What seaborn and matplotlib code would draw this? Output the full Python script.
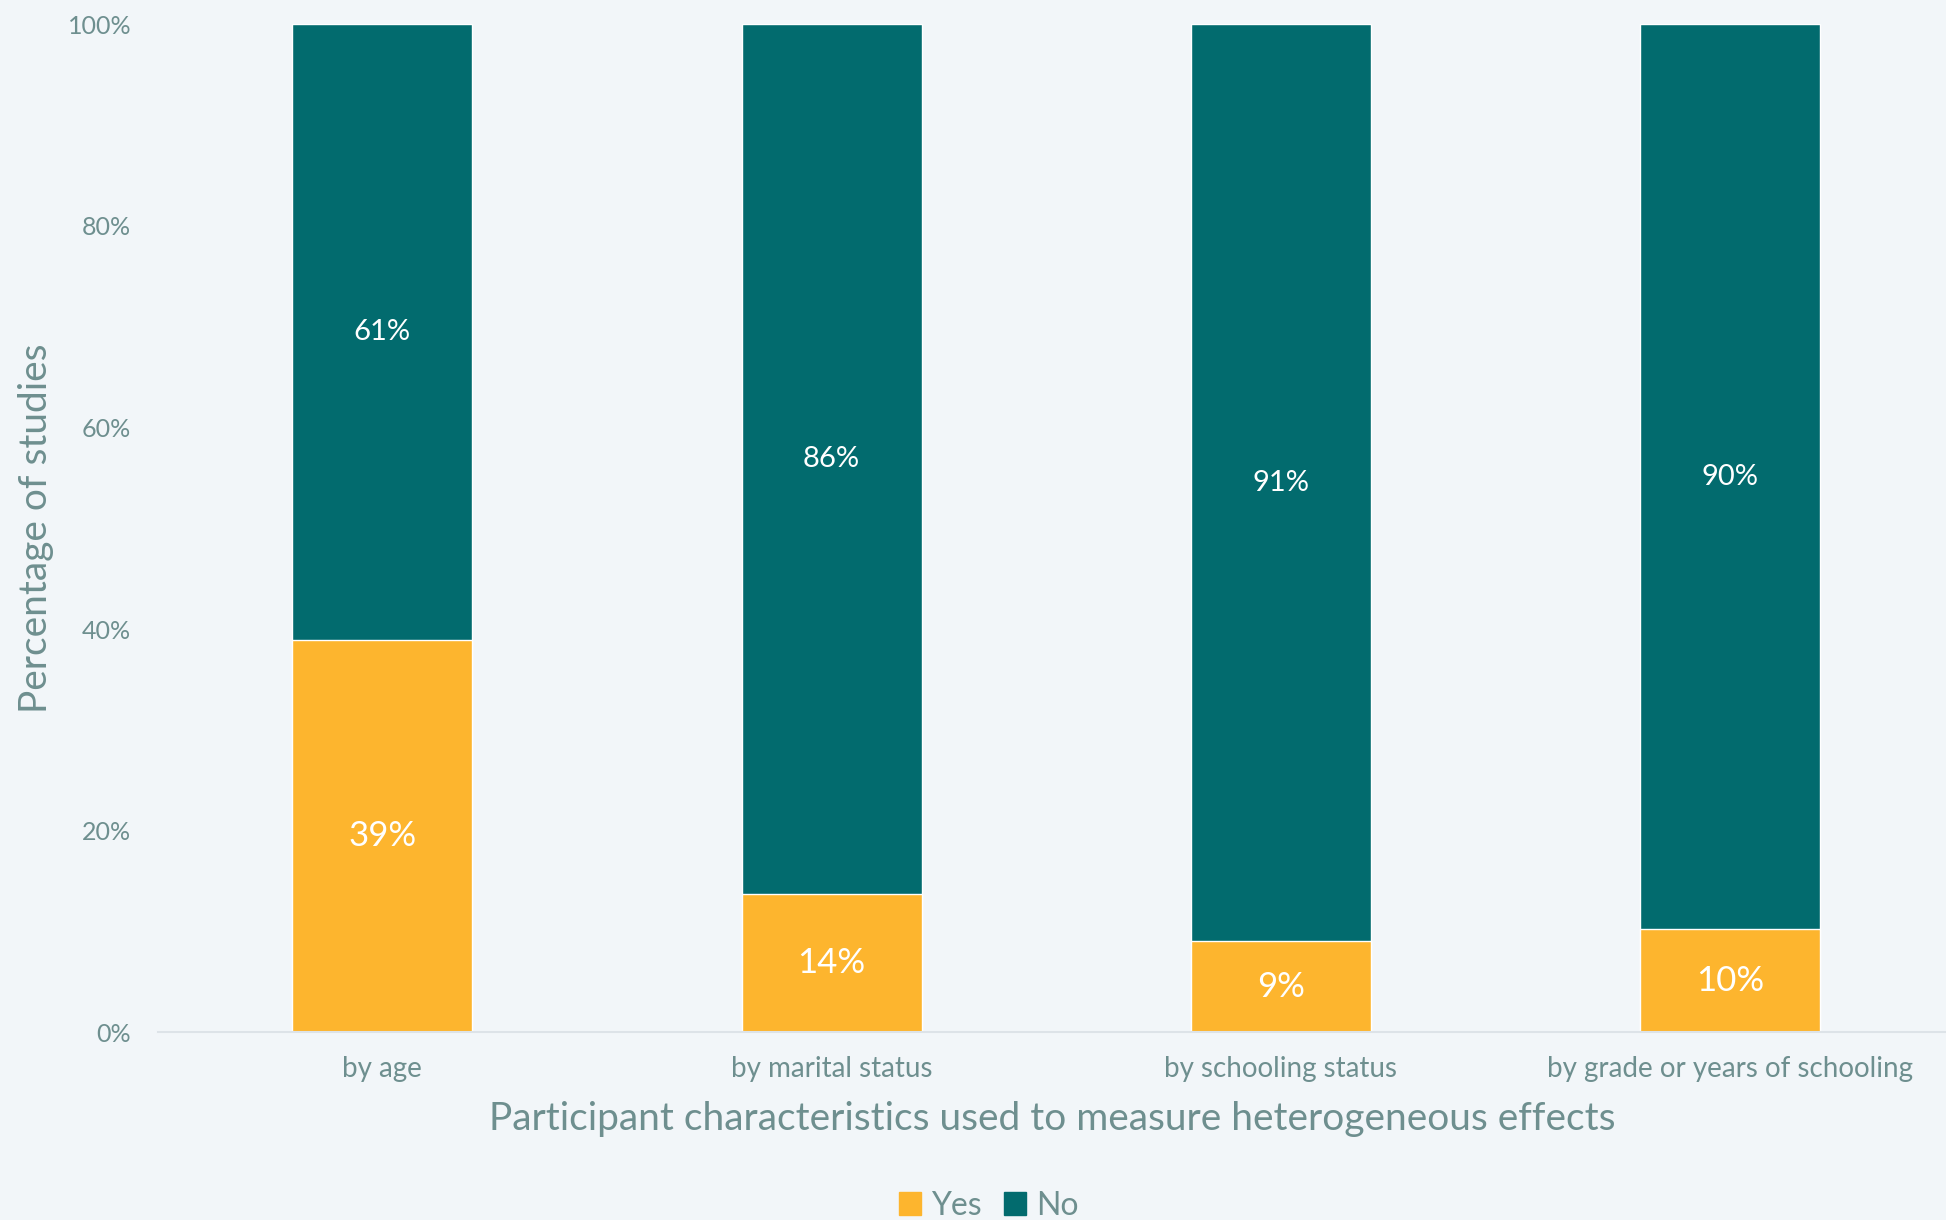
"""Stacked 100% bar chart: heterogeneous effects by participant characteristic."""

import matplotlib.pyplot as plt
import pandas as pd
import seaborn as sns
from matplotlib.patches import Patch

CATEGORIES = [
    "by age",
    "by marital status",
    "by schooling status",
    "by grade or years of schooling",
]
YES_PCT = [38.9, 13.7, 9.0, 10.2]
NO_PCT = [61.1, 86.3, 91.0, 89.8]
Y_TICKS = [0, 20, 40, 60, 80, 100]

BG = "#F2F6F9"
YES_COLOR = "#FDB52E"
NO_COLOR = "#026B6E"
TEXT_COLOR = "#6E8F8F"

sns.set_theme(style="white")
plt.rcParams["font.family"] = ["Lato", "DejaVu Sans"]

df = pd.DataFrame({"category": CATEGORIES, "yes": YES_PCT, "no": NO_PCT})
df["total"] = df["yes"] + df["no"]

fig = plt.figure(figsize=(19.46, 12.2), dpi=100, facecolor=BG)
ax = fig.add_axes([0.081, 0.154, 0.919, 0.826])
ax.set_facecolor(BG)

# full-height bar in teal, then the "yes" share laid over the bottom
sns.barplot(data=df, x="category", y="total", color=NO_COLOR, width=0.4,
            saturation=1, ax=ax)
sns.barplot(data=df, x="category", y="yes", color=YES_COLOR, width=0.4,
            saturation=1, ax=ax)

for i, (yes, no) in enumerate(zip(YES_PCT, NO_PCT)):
    ax.text(i, yes / 2, f"{yes:.0f}%", ha="center", va="center",
            color="white", fontsize=25)
    ax.text(i, yes + no / 2, f"{no:.0f}%", ha="center", va="center",
            color="white", fontsize=21)

ax.set_xlim(-0.5, 3.48)
ax.set_ylim(0, 100)
ax.set_yticks(Y_TICKS)
ax.set_yticklabels([f"{t}%" for t in Y_TICKS])
ax.tick_params(axis="both", colors=TEXT_COLOR, length=0)
ax.tick_params(axis="y", labelsize=18, pad=19)
ax.tick_params(axis="x", labelsize=20, pad=17)

ax.set_xlabel("Participant characteristics used to measure heterogeneous effects",
              color=TEXT_COLOR, fontsize=28, labelpad=14)
ax.set_ylabel("Percentage of studies", color=TEXT_COLOR, fontsize=28,
              labelpad=10)

for side in ["top", "right", "left"]:
    ax.spines[side].set_visible(False)
ax.spines["bottom"].set_color("#DDE3E8")
ax.spines["bottom"].set_linewidth(1.5)

handles = [Patch(color=YES_COLOR, label="Yes"), Patch(color=NO_COLOR, label="No")]
fig.legend(handles=handles, loc="lower center", bbox_to_anchor=(0.508, -0.024),
           ncol=2, frameon=False, fontsize=23, labelcolor=TEXT_COLOR,
           handlelength=0.7, handleheight=0.7, handletextpad=0.3,
           columnspacing=0.7)

fig.savefig("out.png", dpi=100, facecolor=BG)
